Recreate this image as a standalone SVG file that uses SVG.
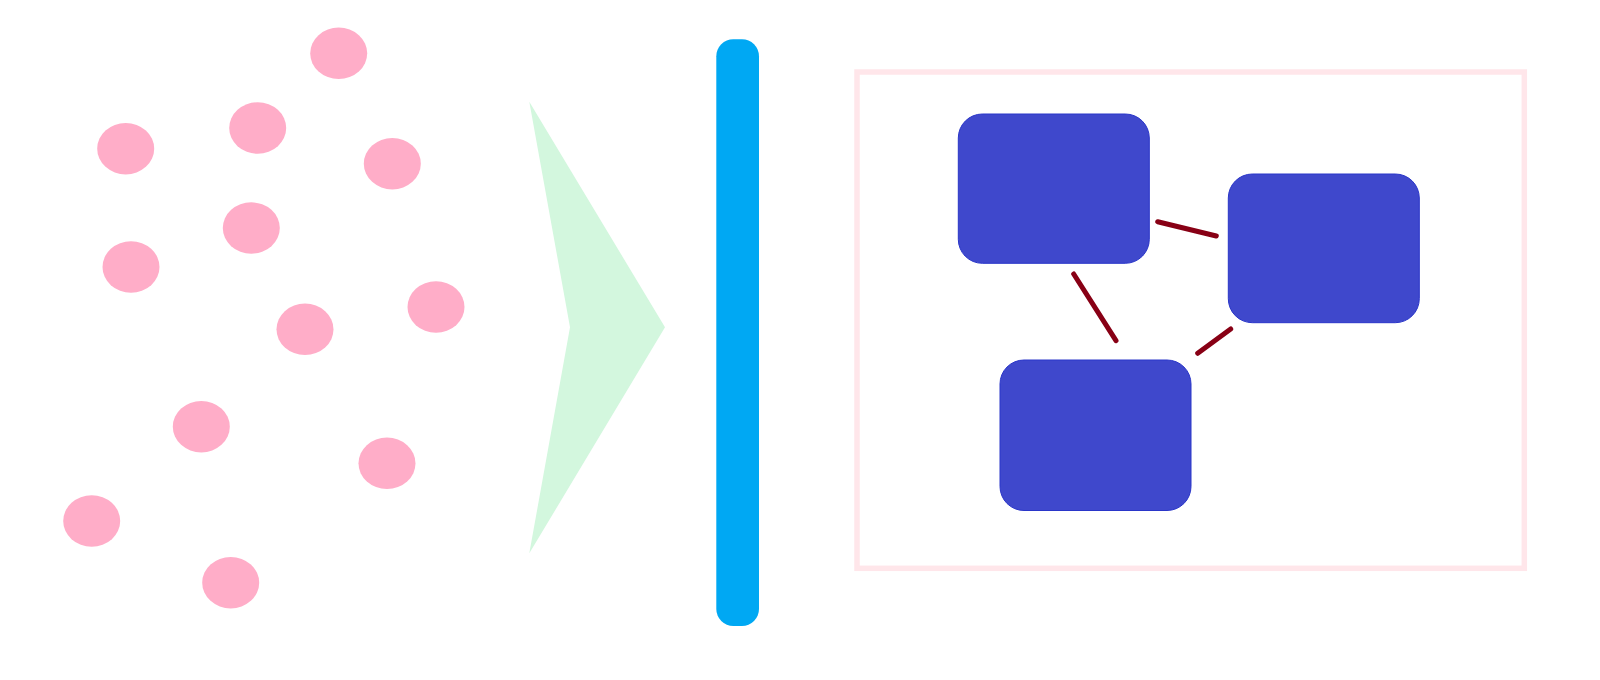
<svg xmlns="http://www.w3.org/2000/svg" width="1600" height="680" viewBox="0 0 1600 680">
<style>
.dot{fill:#FFADC8}
.box{fill:#3F48CC;stroke:#2A36C9;stroke-width:1}
.link{stroke:#880015;stroke-width:5;stroke-linecap:round;fill:none}
</style>
<rect width="1600" height="680" fill="#FFFFFF"/>
<g id="dots">
<ellipse class="dot" cx="338.7" cy="53.3" rx="28.5" ry="25.7"/>
<ellipse class="dot" cx="257.7" cy="128" rx="28.5" ry="25.7"/>
<ellipse class="dot" cx="125.7" cy="148.7" rx="28.5" ry="25.7"/>
<ellipse class="dot" cx="392.3" cy="163.7" rx="28.5" ry="25.7"/>
<ellipse class="dot" cx="251.3" cy="228" rx="28.5" ry="25.7"/>
<ellipse class="dot" cx="131" cy="267" rx="28.5" ry="25.7"/>
<ellipse class="dot" cx="436" cy="307" rx="28.5" ry="25.7"/>
<ellipse class="dot" cx="305" cy="329.3" rx="28.5" ry="25.7"/>
<ellipse class="dot" cx="201.3" cy="426.7" rx="28.5" ry="25.7"/>
<ellipse class="dot" cx="387" cy="463.3" rx="28.5" ry="25.7"/>
<ellipse class="dot" cx="91.7" cy="521" rx="28.5" ry="25.7"/>
<ellipse class="dot" cx="230.7" cy="582.7" rx="28.5" ry="25.7"/>
</g>
<g id="chevron">
<polygon points="529.3,101.7 665,327.3 529.3,553.3 570,327.3" fill="#D3F7DE"/>
</g>
<g id="bar">
<rect x="716.3" y="39.3" width="42.7" height="586.7" rx="17" ry="17" fill="#00A8F3"/>
</g>
<g id="frame">
<rect x="857" y="72" width="667.3" height="496.3" fill="none" stroke="#FFE6EA" stroke-width="5.5"/>
</g>
<g id="connectors">
<line class="link" x1="1157.7" y1="221.7" x2="1216.3" y2="236"/>
<line class="link" x1="1073.7" y1="274" x2="1116" y2="340.7"/>
<line class="link" x1="1230.7" y1="329" x2="1197.7" y2="353.3"/>
</g>
<g id="node1">
<rect class="box" x="958.3" y="114" width="191" height="149.3" rx="24" ry="24"/>
</g>
<g id="node2">
<rect class="box" x="1228.3" y="174" width="191" height="148.7" rx="24" ry="24"/>
</g>
<g id="node3">
<rect class="box" x="1000" y="360" width="191" height="150.5" rx="24" ry="24"/>
</g>
</svg>
